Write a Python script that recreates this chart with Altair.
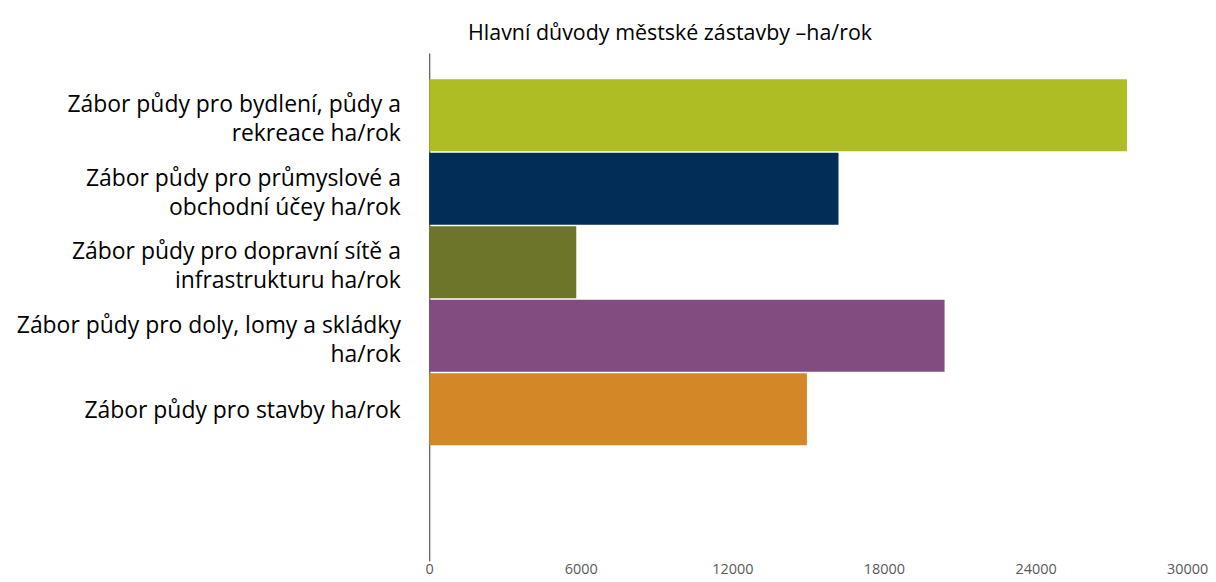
import altair as alt
import pandas as pd

labels = [
    "Zábor půdy pro bydlení, půdy a\u00a0\u00a0|rekreace ha/rok\u00a0\u00a0",
    "Zábor půdy pro průmyslové a|obchodní účey ha/rok",
    "Zábor půdy pro dopravní sítě a|infrastrukturu ha/rok",
    "Zábor půdy pro doly, lomy a skládky|ha/rok",
    "Zábor půdy pro stavby ha/rok",
]
values = [27620, 16200, 5820, 20400, 14950]
colors = ["#AEBD24", "#012D56", "#6D752A", "#834C81", "#D48727"]
x_ticks = [0, 6000, 12000, 18000, 24000, 30000]

df = pd.DataFrame({"label": labels, "value": values})

chart = alt.Chart(df).mark_bar().encode(
    y=alt.Y(
        "label:N",
        sort=None,
        scale=alt.Scale(paddingInner=0.02, paddingOuter=0.965, align=0.185),
        axis=alt.Axis(
            title=None,
            labelExpr="split(datum.label, '|')",
            labelFont="Open Sans",
            labelFontSize=23,
            labelColor="#000000",
            labelLimit=0,
            labelLineHeight=29,
            labelPadding=29,
            labelOffset={"condition": {"test": "indexof(datum.value, '|') >= 0", "value": -10}, "value": 2},
            ticks=False,
            grid=False,
            domainColor="#333333",
            domainWidth=1,
            minExtent=421,
            maxExtent=421,
        ),
    ),
    x=alt.X(
        "value:Q",
        scale=alt.Scale(domain=[0, 30000], nice=False),
        axis=alt.Axis(
            title=None,
            values=x_ticks,
            format="d",
            domain=False,
            ticks=False,
            grid=False,
            labelFlush=False,
            labelFont="Open Sans",
            labelFontSize=14.5,
            labelColor="#595959",
            labelPadding=2,
        ),
    ),
    color=alt.Color("label:N", scale=alt.Scale(domain=labels, range=colors), legend=None),
).properties(
    width=761,
    height=510,
    background="white",
    padding={"left": 2, "top": 13, "right": 0, "bottom": 0},
    title=alt.TitleParams(
        "Hlavní důvody městské zástavby –ha/rok",
        anchor="start",
        frame="group",
        dx=39,
        offset=9,
        font="Open Sans",
        fontSize=21.5,
        fontWeight="normal",
        color="#000000",
    ),
).configure_view(stroke=None)

chart.save("out.html", embed_options={"renderer": "svg", "actions": False})
